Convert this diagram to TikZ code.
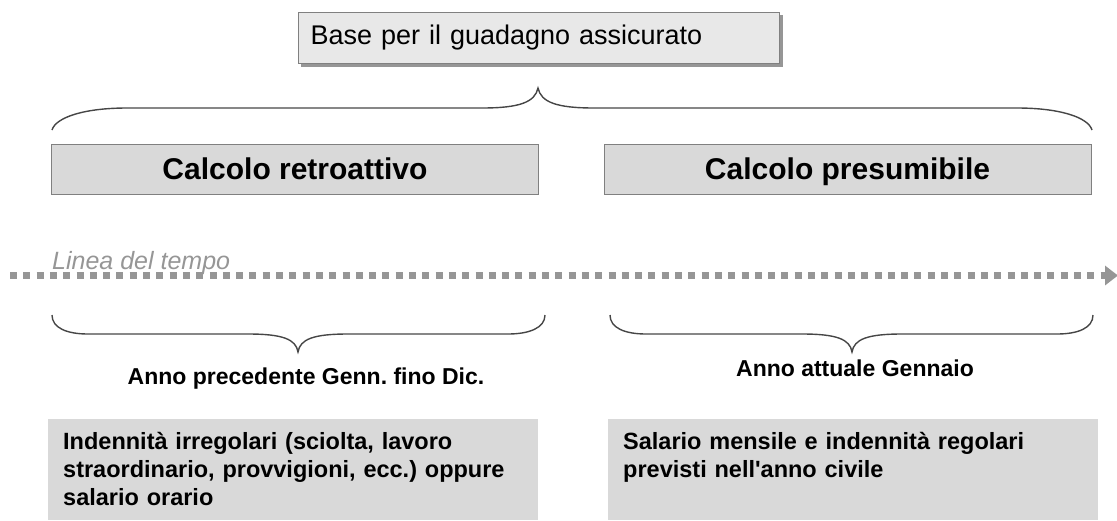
\documentclass[tikz,border=0pt]{standalone}
\usepackage{fontspec}
\setmainfont{Liberation Sans}
\usetikzlibrary{arrows.meta}
\usetikzlibrary{backgrounds}

\definecolor{boxgray}{RGB}{217,217,217}
\definecolor{titlegray}{RGB}{232,232,232}
\definecolor{edgegray}{RGB}{128,128,128}
\definecolor{shadowgray}{RGB}{150,150,150}
\definecolor{bracegray}{RGB}{70,70,70}
\definecolor{dotgray}{RGB}{150,150,150}

\tikzset{
  titlebox/.style={draw=edgegray, line width=1pt, fill=titlegray, text width=457pt, inner xsep=12pt, inner ysep=0pt, minimum height=51pt, align=left, font=\fontsize{27}{32}\selectfont},
  calcbox/.style={draw=edgegray, line width=1pt, fill=boxgray, minimum width=487pt, minimum height=50pt, inner sep=0pt, text height=24pt, text depth=4pt, font=\fontsize{30}{36}\selectfont\bfseries},
  notebox/.style={fill=boxgray, text width=460pt, inner xsep=15pt, inner ysep=13pt, text height=17pt, text depth=58pt, anchor=north west, align=left, font=\fontsize{23.5}{28}\selectfont\bfseries},
  periodlabel/.style={anchor=base, inner sep=0pt, font=\fontsize{23}{28}\selectfont\bfseries},
  bracepath/.style={draw=bracegray, line width=1.4pt},
  timeline/.style={draw=dotgray, line width=7pt, dash pattern=on 7pt off 6.3pt, -{Triangle[length=13pt,width=19pt]}}
}

\begin{document}
\frenchspacing
\begin{tikzpicture}[x=1pt,y=1pt,yscale=-1,xscale=1]
\useasboundingbox (0,0) rectangle (1117,520);

% Title box
\node [titlebox, anchor=north west] (base) at (298,12) {Base per il guadagno assicurato};
\begin{scope}[on background layer]
\fill [shadowgray] ([shift={(3,3)}]base.north west) rectangle ([shift={(3,3)}]base.south east);
\end{scope}

%Brace over both methods
\draw [bracepath] (52,130) .. controls (56,117) and (85,108) .. (127,108) -- (482,108) .. controls (520,108) and (535,102) .. (538,88) .. controls (541,102) and (556,108) .. (594,108) -- (1017,108) .. controls (1059,108) and (1088,117) .. (1092,130);

% Method boxes
\node [calcbox] (retro) at (295,169) {Calcolo retroattivo};
\node [calcbox] (presum) at (847.5,169) {Calcolo presumibile};

% Time line
\coordinate (tstart) at (10,275.5);
\coordinate (tend) at (1118,275.5);
\draw [timeline] (tstart) -- (tend);
\node [anchor=base west, inner sep=0pt, text=dotgray, font=\fontsize{25}{28}\selectfont\itshape] (tempo) at (52,269) {Linea del tempo};

%Lower braces
\draw [bracepath] (52,315) .. controls (52,328) and (67,334) .. (88,334) -- (248,334) .. controls (282,334) and (296,339) .. (298,352) .. controls (300,339) and (314,334) .. (348,334) -- (508,334) .. controls (529,334) and (545,328) .. (545,315);
\draw [bracepath] (610,315) .. controls (610,328) and (625,334) .. (646,334) -- (802,334) .. controls (836,334) and (850,339) .. (852,352) .. controls (854,339) and (868,334) .. (902,334) -- (1057,334) .. controls (1078,334) and (1093,328) .. (1093,315);

% Period labels
\node [periodlabel] (prevyear) at (306,384) {Anno precedente Genn. fino Dic.};
\node [periodlabel] (curyear) at (855,376) {Anno attuale Gennaio};

% Income boxes
\node [notebox] (irreg) at (48,419) {Indennità irregolari (sciolta, lavoro\\ straordinario, provvigioni, ecc.) oppure\\ salario orario};
\node [notebox] (regular) at (608,419) {Salario mensile e indennità regolari\\ previsti nell\textquotesingle anno civile};

\end{tikzpicture}
\end{document}
